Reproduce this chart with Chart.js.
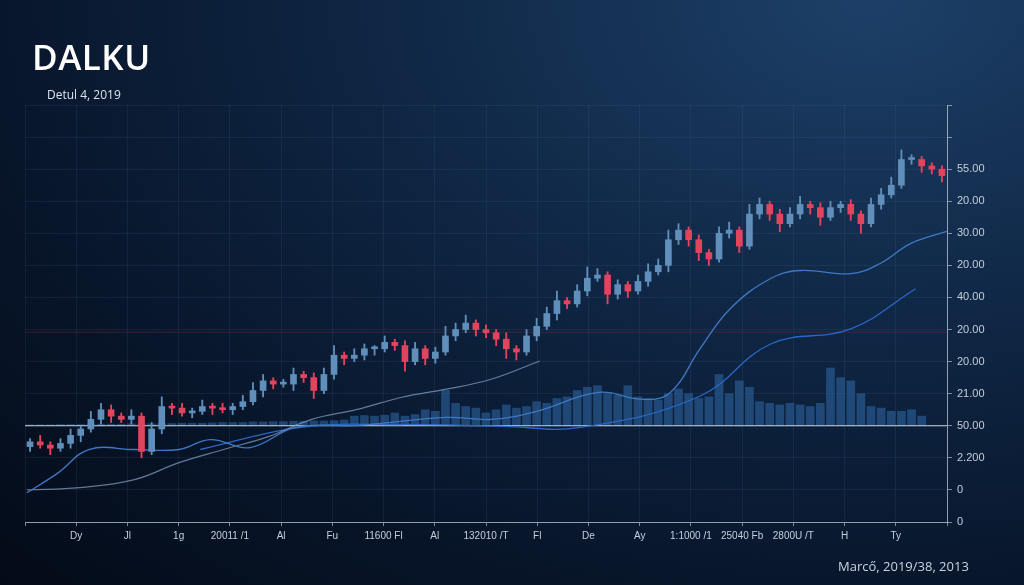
<!DOCTYPE html>
<html><head><meta charset="utf-8">
<script src="https://cdn.jsdelivr.net/npm/chart.js@4.4.1/dist/chart.umd.min.js"></script>
<style>
html,body{margin:0;padding:0;width:1024px;height:585px;overflow:hidden;
background:radial-gradient(ellipse at 85% 0%,#1d4068 0%,#0f2644 40%,#071428 75%,#040b18 100%);font-family:"Open Sans",sans-serif;}
#wrap{position:absolute;left:0;top:0;width:1024px;height:585px;}
.t{position:absolute;color:#fff;}
</style></head><body>
<div id="wrap"><canvas id="c" width="1024" height="585"></canvas></div>
<div class="t" style="left:32px;top:33px;font-size:35px;font-weight:600;letter-spacing:0.5px;font-family:'Open Sans'">DALKU</div>
<div class="t" style="left:47px;top:86px;font-size:12px;color:#dbe3ee">Detul 4, 2019</div>
<div class="t" style="left:838px;top:557px;font-size:13px;color:#c9d3e0">Marcő, 2019/38, 2013</div>
<script>
const yLabels=["","","55.00","20.00","30.00","20.00","40.00","20.00","20.00","21.00","50.00","2.200","0","0"];
const xLabels=["","Dy","Jl","1g","20011 /1","Al","Fu","11600 Fl","Al","132010 /T","Fl","De","Ay","1:1000 /1","25040 Fb","2800U /T","H","Ty",""];
const closes=[2.5,2.4,2.3,2.45,2.7,2.9,3.2,3.5,3.3,3.2,3.3,2.2,2.9,3.6,3.55,3.4,3.45,3.6,3.55,3.5,3.6,3.75,4.1,4.4,4.3,4.3,4.6,4.5,4.1,4.6,5.2,5.1,5.2,5.4,5.4,5.6,5.5,5.0,5.4,5.1,5.3,5.8,6.0,6.2,6.0,5.9,5.7,5.4,5.3,5.8,6.1,6.5,6.9,6.8,7.2,7.6,7.7,7.1,7.4,7.2,7.5,7.8,8.0,8.8,9.1,8.8,8.4,8.2,9.0,9.1,8.6,9.6,9.9,9.6,9.3,9.6,9.9,9.8,9.5,9.8,9.9,9.6,9.3,9.9,10.2,10.5,11.3,11.3,11.1,11.0,10.8];
const firstOpen=2.35;
const hiExt=[0.1,0.2,0.1,0.15,0.2,0.1,0.25,0.2,0.15,0.1,0.2,0.1,0.2,0.3,0.1,0.15,0.1,0.2,0.1,0.15,0.1,0.2,0.25,0.2,0.1,0.15,0.2,0.1,0.15,0.2,0.3,0.1,0.2,0.15,0.1,0.2,0.1,0.15,0.2,0.1,0.15,0.3,0.2,0.25,0.1,0.15,0.1,0.2,0.1,0.2,0.25,0.2,0.3,0.1,0.2,0.35,0.2,0.1,0.15,0.1,0.2,0.25,0.2,0.3,0.2,0.1,0.15,0.1,0.2,0.25,0.1,0.3,0.2,0.1,0.15,0.2,0.25,0.1,0.15,0.2,0.1,0.15,0.1,0.2,0.2,0.25,0.3,0.15,0.1,0.1,0.1];
const loExt=[0.15,0.1,0.2,0.1,0.15,0.2,0.1,0.15,0.2,0.1,0.15,0.2,0.1,0.15,0.2,0.1,0.15,0.1,0.2,0.1,0.15,0.1,0.1,0.2,0.15,0.1,0.2,0.15,0.25,0.1,0.15,0.2,0.1,0.15,0.2,0.1,0.15,0.3,0.1,0.2,0.15,0.1,0.15,0.1,0.2,0.15,0.2,0.3,0.25,0.1,0.15,0.1,0.2,0.15,0.1,0.15,0.1,0.3,0.15,0.2,0.1,0.15,0.1,0.2,0.15,0.2,0.25,0.2,0.1,0.15,0.2,0.1,0.15,0.2,0.25,0.1,0.15,0.2,0.25,0.1,0.15,0.2,0.3,0.1,0.15,0.1,0.1,0.15,0.2,0.15,0.2];
const volumes=[0.03,0.03,0.03,0.04,0.04,0.04,0.05,0.05,0.05,0.05,0.06,0.06,0.06,0.07,0.07,0.08,0.08,0.08,0.09,0.1,0.1,0.1,0.12,0.12,0.13,0.13,0.14,0.14,0.15,0.15,0.16,0.18,0.3,0.32,0.3,0.33,0.4,0.3,0.35,0.5,0.45,1.1,0.7,0.6,0.55,0.4,0.5,0.65,0.55,0.6,0.75,0.7,0.85,0.9,1.1,1.2,1.25,1.0,0.95,1.25,0.9,0.85,0.8,1.0,1.15,1.0,0.85,0.9,1.6,1.0,1.4,1.2,0.75,0.7,0.65,0.7,0.65,0.6,0.7,1.8,1.5,1.4,1.0,0.6,0.55,0.45,0.45,0.5,0.3,0,0];
const volBase=3.0;
const lineAx=[-0.3,2.8,5.8,10.3,14.7,17.8,21.7,26.2,32.3,41.1,45.5,50,56.1,60.5,63.2,66.1,69.1,73.1,76,81,83.9,86.9,90.5];
const lineAy=[0.91,1.54,2.26,2.26,2.26,2.57,2.32,2.95,3.01,3.26,3.2,3.45,4.04,3.82,4.04,5.39,6.65,7.59,7.84,7.74,8.06,8.68,9.06];
const lineBx=[-0.3,4.9,10.3,14.7,19.1,23.5,27.8,32.3,36.7,41.1,45.5,50.3];
const lineBy=[1.0,1.07,1.32,1.85,2.26,2.66,3.2,3.51,3.89,4.14,4.45,5.02];
const lineDx=[16.8,26.7,36.5,46.8,54.3,66.1,73.1,81,87.4];
const lineDy=[2.26,2.95,3.04,2.98,2.95,3.92,5.55,6.02,7.27];
const redLevel=5.92, whiteLevel=3.0;

const opens=closes.map((c,i)=>i===0?firstOpen:closes[i-1]);
const up=closes.map((c,i)=>c>=opens[i]);
const UP='#5f8fba', DN='#e2445e';
const pts=(xs,ys)=>xs.map((x,i)=>({x:x,y:ys[i]}));
const ctx=document.getElementById('c');
new Chart(ctx,{
 data:{datasets:[
  {type:'bar',data:volumes.map((v,i)=>({x:i,y:[volBase,volBase+v]})),backgroundColor:'rgba(45,100,160,0.6)',barThickness:8,grouped:false,order:5},
  {type:'line',data:[{x:-0.5,y:whiteLevel},{x:90.5,y:whiteLevel}],borderColor:'rgba(230,235,240,0.85)',borderWidth:1.2,pointRadius:0,order:4},
  {type:'line',data:[{x:-0.5,y:redLevel},{x:90.5,y:redLevel}],borderColor:'rgba(140,40,60,0.45)',borderWidth:1,pointRadius:0,order:4},
  {type:'line',data:pts(lineAx,lineAy),borderColor:'#3f79c4',borderWidth:1.3,pointRadius:0,tension:0.4,order:3},
  {type:'line',data:pts(lineBx,lineBy),borderColor:'rgba(140,165,200,0.7)',borderWidth:1.2,pointRadius:0,tension:0.4,order:3},
  {type:'line',data:pts(lineDx,lineDy),borderColor:'#2a68c8',borderWidth:1.3,pointRadius:0,tension:0.4,order:3},
  {type:'bar',data:closes.map((c,i)=>({x:i,y:[Math.min(c,opens[i])-loExt[i],Math.max(c,opens[i])+hiExt[i]]})),backgroundColor:up.map(u=>u?UP:DN),barThickness:1.2,grouped:false,order:2},
  {type:'bar',data:closes.map((c,i)=>({x:i,y:[opens[i],c]})),backgroundColor:up.map(u=>u?UP:DN),barThickness:6,minBarLength:2,grouped:false,order:1}
 ]},
 options:{responsive:false,animation:false,
  layout:{padding:{left:25,top:105,right:0,bottom:0}},
  plugins:{legend:{display:false},tooltip:{enabled:false}},
  scales:{
   x:{type:'linear',min:-0.5,max:90.5,offset:false,bounds:'ticks',display:false},
   x2:{type:'category',labels:xLabels,position:'bottom',offset:false,
     grid:{color:'rgba(90,120,160,0.13)',drawTicks:true,tickLength:4,tickColor:'rgba(200,210,225,0.6)'},
     border:{color:'rgba(200,210,225,0.7)'},
     ticks:{color:'#c5cfdc',font:{size:10},maxRotation:0,autoSkip:false,padding:4},
     afterFit:s=>{s.height=63;}},
   y:{type:'linear',position:'right',min:0,max:13,
     ticks:{stepSize:1,color:'#c5cfdc',font:{size:11},padding:5,callback:v=>yLabels[13-v]},
     grid:{color:'rgba(90,120,160,0.14)',tickLength:5,tickColor:'rgba(200,210,225,0.6)'},
     border:{color:'rgba(200,210,225,0.7)'},
     afterFit:s=>{s.width=77;}}
  }}
});
</script></body></html>
